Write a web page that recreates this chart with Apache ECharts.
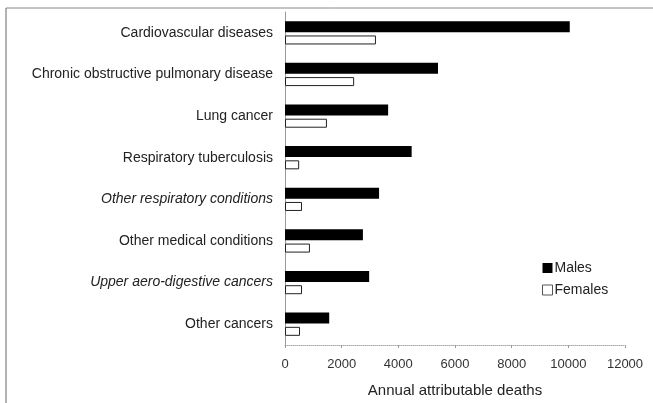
<!DOCTYPE html>
<html lang="en">
<head>
    <meta charset="UTF-8">
    <title>Annual attributable deaths</title>
    <script src="https://cdn.jsdelivr.net/npm/echarts@6/dist/echarts.min.js"></script>
</head>
<body style="margin:0">
    <div style="width: 653px; height:403px" id="main"></div>
    <script type="text/javascript">
        var categories = ['Cardiovascular diseases', 'Chronic obstructive pulmonary disease', 'Lung cancer',
            'Respiratory tuberculosis', 'Other respiratory conditions', 'Other medical conditions',
            'Upper aero-digestive cancers', 'Other cancers']
        var italicCats = ['Other respiratory conditions', 'Upper aero-digestive cancers']
        var males = [10050, 5400, 3640, 4470, 3320, 2750, 2970, 1560]
        var females = [3210, 2440, 1480, 500, 600, 880, 600, 530]
        var xTicks = [0, 2000, 4000, 6000, 8000, 10000, 12000]

        var myChart = echarts.init(document.getElementById('main'))
        var option = {
            animation: false,
            backgroundColor: '#fff',
            textStyle: {fontFamily: 'Liberation Sans, Arial, sans-serif'},
            graphic: [
                {type: 'line', shape: {x1: 6, y1: 8, x2: 653, y2: 8}, style: {stroke: '#888', lineWidth: 1}},
                {type: 'line', shape: {x1: 6, y1: 8, x2: 6, y2: 403}, style: {stroke: '#666', lineWidth: 1}}
            ],
            legend: {
                orient: 'vertical',
                left: 537,
                top: 256,
                itemWidth: 10,
                itemHeight: 10,
                itemGap: 8,
                data: [
                    {name: 'Males', icon: 'rect'},
                    {name: 'Females', icon: 'rect', itemStyle: {borderColor: '#555', borderWidth: 1}}
                ],
                textStyle: {fontSize: 14, color: '#222', padding: [0, 0, 0, -3]}
            },
            grid: {left: 285, right: 28, top: 12, bottom: 58},
            xAxis: {
                type: 'value',
                min: xTicks[0],
                max: xTicks[xTicks.length - 1],
                interval: 2000,
                name: 'Annual attributable deaths',
                nameLocation: 'middle',
                nameGap: 38,
                nameTextStyle: {fontSize: 15, color: '#222'},
                axisLine: {show: true, lineStyle: {color: '#aaa', type: 'dotted'}},
                axisTick: {show: true, length: 3, lineStyle: {color: '#999'}},
                axisLabel: {
                    fontSize: 13,
                    color: '#333',
                    margin: 13,
                    formatter: function (v) { return String(v) }
                },
                splitLine: {show: false}
            },
            yAxis: {
                type: 'category',
                inverse: true,
                data: categories,
                axisLine: {show: true, lineStyle: {color: '#999'}},
                axisTick: {show: false},
                axisLabel: {
                    fontSize: 14,
                    color: '#222',
                    margin: 12,
                    formatter: function (v) {
                        return italicCats.indexOf(v) >= 0 ? '{i|' + v + '}' : v
                    },
                    rich: {i: {fontStyle: 'italic', fontSize: 14, color: '#222'}}
                }
            },
            series: [
                {
                    name: 'Males',
                    type: 'bar',
                    data: males,
                    barWidth: 11,
                    barGap: '30%',
                    itemStyle: {color: '#000'}
                },
                {
                    name: 'Females',
                    type: 'bar',
                    data: females,
                    barWidth: 9,
                    itemStyle: {color: '#fff', borderColor: '#222', borderWidth: 1}
                }
            ]
        }
        myChart.setOption(option)
    </script>
</body>
</html>
